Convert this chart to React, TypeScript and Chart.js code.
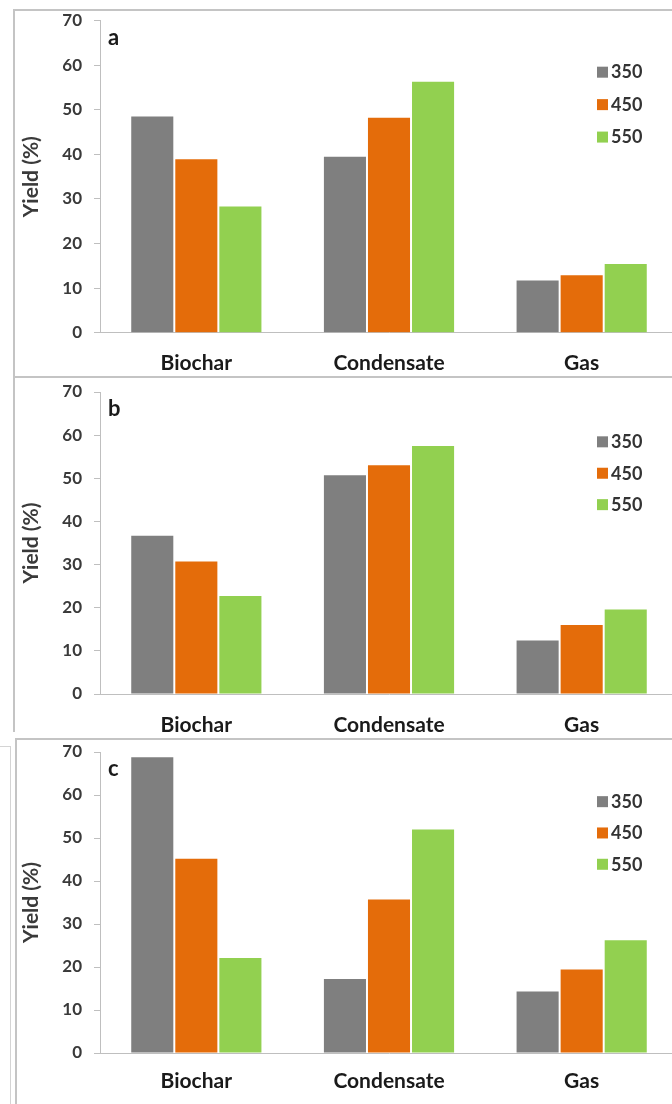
import React, { useEffect, useRef } from "react";
import { Chart, registerables } from "chart.js";

Chart.register(...registerables);

// ---------- data ----------
const categories = ["Biochar", "Condensate", "Gas"];
const temperatures = ["350", "450", "550"];
const yTickValues = [0, 10, 20, 30, 40, 50, 60, 70];
const yAxisTitle = "Yield (%)";

const panelA350 = [48.5, 39.5, 11.7];
const panelA450 = [38.9, 48.2, 12.9];
const panelA550 = [28.3, 56.3, 15.4];

const panelB350 = [36.7, 50.7, 12.4];
const panelB450 = [30.7, 53.0, 16.0];
const panelB550 = [22.7, 57.5, 19.6];

const panelC350 = [68.8, 17.2, 14.3];
const panelC450 = [45.2, 35.7, 19.4];
const panelC550 = [22.1, 52.0, 26.2];

const seriesColors = ["#7f7f7f", "#e46c0a", "#92d050"];

// ---------- layout (positions / sizes only) ----------
const FONT = "Lato, 'Open Sans', sans-serif";
const panels = [
  { letter: "a", series: [panelA350, panelA450, panelA550], top: 10, height: 368, padTop: 10.7, xAxisH: 45.3, labelPad: 18 },
  { letter: "b", series: [panelB350, panelB450, panelB550], top: 379, height: 353, padTop: 13, xAxisH: 38, labelPad: 19 },
  { letter: "c", series: [panelC350, panelC450, panelC550], top: 740, height: 364, padTop: 12, xAxisH: 51, labelPad: 16 },
];

const overlayPlugin = {
  id: "overlay",
  afterDraw(chart: any, _args: any, opts: any) {
    const { ctx, chartArea } = chart;
    const h = chartArea.bottom - chartArea.top;
    ctx.save();
    // panel letter
    ctx.font = `bold 22px ${FONT}`;
    ctx.fillStyle = "#1a1a1a";
    ctx.textAlign = "left";
    ctx.textBaseline = "middle";
    ctx.fillText(opts.letter, 108, chartArea.top + 17);
    // legend
    ctx.font = `bold 18px ${FONT}`;
    chart.data.datasets.forEach((ds: any, i: number) => {
      const yc = chartArea.top + h * (0.165 + 0.104 * i);
      ctx.fillStyle = ds.backgroundColor;
      ctx.fillRect(597, yc - 5.5, 11, 11);
      ctx.fillStyle = "#333333";
      ctx.fillText(ds.label, 611, yc + 0.5);
    });
    ctx.restore();
  },
};

function Panel({ cfg }: { cfg: (typeof panels)[number] }) {
  const ref = useRef<HTMLCanvasElement | null>(null);
  useEffect(() => {
    if (!ref.current) return;
    const chart = new Chart(ref.current, {
      type: "bar",
      data: {
        labels: categories,
        datasets: temperatures.map((t, i) => ({
          label: t,
          data: cfg.series[i],
          backgroundColor: seriesColors[i],
          borderWidth: 0,
          categoryPercentage: 0.686,
          barPercentage: 0.955,
        })),
      },
      options: {
        animation: false,
        responsive: false,
        devicePixelRatio: 1,
        layout: { padding: { top: cfg.padTop, bottom: 0, left: 0, right: 0 } },
        plugins: {
          legend: { display: false },
          tooltip: { enabled: false },
          overlay: { letter: cfg.letter },
        } as any,
        scales: {
          x: {
            grid: { display: false, drawTicks: false },
            border: { display: true, color: "#bfbfbf", width: 1 },
            ticks: {
              color: "#1a1a1a",
              font: { family: FONT, size: 21, weight: "bold" },
              padding: cfg.labelPad,
              maxRotation: 0,
            },
            afterFit: (s: any) => {
              s.height = cfg.xAxisH;
              s.paddingLeft = 0;
              s.paddingRight = 0;
            },
          },
          y: {
            min: 0,
            max: 70,
            afterBuildTicks: (s: any) => {
              s.ticks = yTickValues.map((v) => ({ value: v }));
            },
            grid: { drawOnChartArea: false, drawTicks: true, tickLength: 6, color: "#bfbfbf" },
            border: { display: true, color: "#bfbfbf", width: 1 },
            ticks: {
              color: "#3a3a3a",
              font: { family: FONT, size: 17, weight: "bold" },
              padding: 12,
            },
            title: {
              display: true,
              text: yAxisTitle,
              color: "#3a3a3a",
              font: { family: FONT, size: 21, weight: "bold" },
              padding: { top: 19, bottom: 0 },
            },
            afterFit: (s: any) => {
              s.width = 100;
              s.paddingTop = 0;
              s.paddingBottom = 0;
            },
          },
        },
      },
      plugins: [overlayPlugin],
    });
    return () => chart.destroy();
  }, [cfg]);
  return (
    <canvas
      ref={ref}
      width={678}
      height={cfg.height}
      style={{ position: "absolute", left: 0, top: cfg.top, width: 678, height: cfg.height }}
    />
  );
}

export default function App() {
  const line = "#c4c4c4";
  return (
    <div
      style={{
        position: "absolute",
        left: 0,
        top: 0,
        width: 672,
        height: 1104,
        overflow: "hidden",
        background: "#ffffff",
      }}
    >
      {/* panel frames */}
      <div style={{ position: "absolute", left: 13, top: 9, width: 700, height: 369, borderTop: `2px solid ${line}`, borderLeft: `2px solid ${line}`, borderBottom: `2px solid ${line}`, boxSizing: "border-box" }} />
      <div style={{ position: "absolute", left: 13, top: 377, width: 2, height: 355, background: line }} />
      <div style={{ position: "absolute", left: 15, top: 738, width: 700, height: 400, borderTop: `2px solid ${line}`, borderLeft: `2px solid ${line}`, boxSizing: "border-box" }} />
      <div style={{ position: "absolute", left: 0, top: 746, width: 11, height: 1, background: "#d4d4d4" }} />
      <div style={{ position: "absolute", left: 10, top: 746, width: 1, height: 360, background: "#d4d4d4" }} />
      {panels.map((p) => (
        <Panel key={p.letter} cfg={p} />
      ))}
    </div>
  );
}
